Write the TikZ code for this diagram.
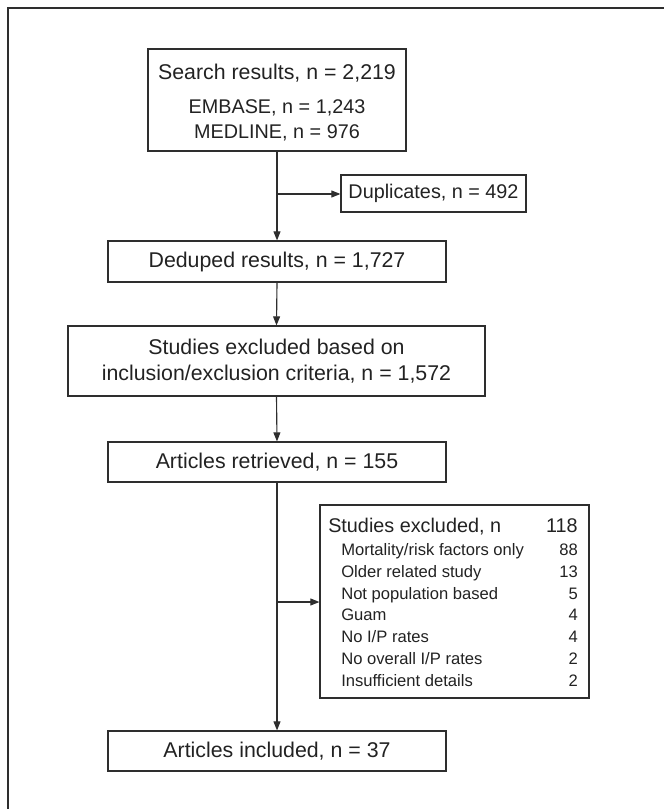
\documentclass[tikz,border=0pt]{standalone}
\usepackage{fontspec}
\setmainfont{Liberation Sans}
\usetikzlibrary{arrows.meta}
\definecolor{ln}{HTML}{2E2E2E}
\definecolor{tx}{HTML}{222222}
\begin{document}
\begin{tikzpicture}[x=0.75pt,y=-0.75pt,
 box/.style={draw=ln,line width=0.85pt,inner sep=0pt,text=tx,font=\fontsize{16}{19.5}\selectfont,align=center},
 arr/.style={draw=ln,line width=0.85pt,-{Triangle[length=6.8pt,width=5.2pt]}},
 lbl/.style={text=tx,inner sep=0pt,anchor=base},
 big/.style={font=\fontsize{16}{19}\selectfont},
 mid/.style={font=\fontsize{14.85}{18}\selectfont},
 sml/.style={font=\fontsize{12.45}{15}\selectfont},
]
\useasboundingbox (0,0) rectangle (664,809);
\draw[ln,line width=1pt] (8,809) -- (8,8) -- (664,8);

% boxes
\node[box,minimum width=193.5pt,minimum height=76.5pt] (search) at (277,100) {};
\node[lbl,big] (s1) at (277,79.6) {Search results, n = 2,219};
\node[lbl,mid] (s2) at (277,114) {EMBASE, n = 1,243};
\node[lbl,mid] (s3) at (277,139) {MEDLINE, n = 976};

\node[box,mid,minimum width=138.75pt,minimum height=27.75pt] (dup) at (433.5,193.5) {Duplicates, n = 492};
\node[box,minimum width=253.5pt,minimum height=30.75pt] (dedup) at (277,261.5) {Deduped results, n = 1,727};
\node[box,minimum width=312.75pt,minimum height=52.5pt] (crit) at (276.5,361) {Studies excluded based on\\inclusion/exclusion criteria, n = 1,572};
\node[box,minimum width=253.5pt,minimum height=30pt] (retr) at (277,462) {Articles retrieved, n = 155};
\node[box,minimum width=201.75pt,minimum height=144.75pt] (excl) at (454.5,601.5) {};
\node[box,minimum width=253.5pt,minimum height=30pt] (incl) at (277,751) {Articles included, n = 37};

% exclusion list
\node[lbl,mid,anchor=base west] (h1) at (328,532) {Studies excluded, n};
\node[lbl,mid,anchor=base east] (h2) at (578,532) {118};
\foreach \i/\t/\n/\y in {1/{Mortality/risk factors only}/88/555,
                         2/{Older related study}/13/577,
                         3/{Not population based}/5/599,
                         4/{Guam}/4/620,
                         5/{No I/P rates}/4/642,
                         6/{No overall I/P rates}/2/664,
                         7/{Insufficient details}/2/686}{
  \node[lbl,sml,anchor=base west] (r\i) at (341,\y) {\t};
  \node[lbl,sml,anchor=base east] (n\i) at (578,\y) {\n};
}

% connectors
\coordinate (b1) at (277,194);
\coordinate (b2) at (277,602);
\draw[arr] (search.south) -- (dedup.north);
\draw[arr] (b1) -- (b1 -| dup.west);
\draw[arr] (dedup.south) -- (crit.north);
\draw[arr] (crit.south) -- (retr.north);
\draw[arr] (retr.south) -- (incl.north);
\draw[arr] (b2) -- (b2 -| excl.west);
\end{tikzpicture}
\end{document}
